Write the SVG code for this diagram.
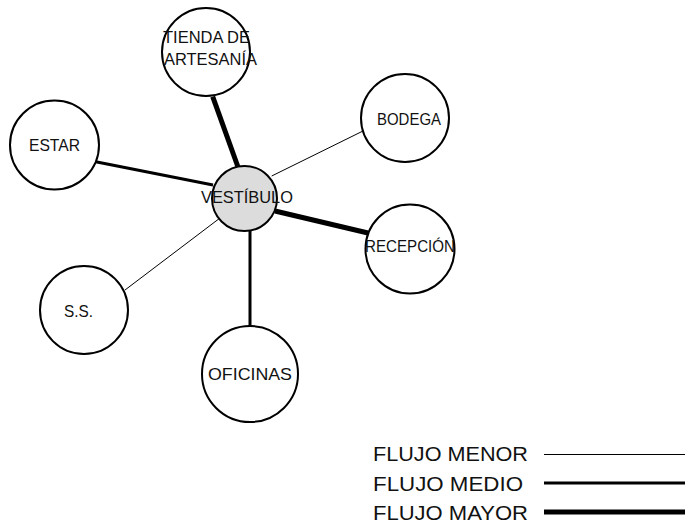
<svg xmlns="http://www.w3.org/2000/svg" width="685" height="527" viewBox="0 0 685 527">
<style>
.node{fill:#fff;stroke:#000;stroke-width:2}
.hub{fill:#dcdcdc;stroke:#000;stroke-width:2}
.lbl{font-family:"Liberation Sans",Arial,sans-serif;font-size:16.5px;fill:#111}
.leg{font-family:"Liberation Sans",Arial,sans-serif;font-size:20.5px;fill:#111}
.menor{stroke:#000;stroke-width:1}
.medio{stroke:#000;stroke-width:3}
.mayor{stroke:#000;stroke-width:5}
</style>
<rect width="685" height="527" fill="#fff"/>
<g id="connectors">
<line class="mayor" x1="212.7" y1="96.7" x2="238" y2="167"/>
<line class="menor" x1="365" y1="130" x2="271.7" y2="176"/>
<line class="mayor" x1="275" y1="211" x2="368" y2="233"/>
<line class="medio" x1="95.7" y1="161.7" x2="213" y2="185"/>
<line class="menor" x1="125" y1="290" x2="220" y2="218"/>
<line class="medio" x1="250" y1="231" x2="250" y2="326"/>
</g>
<g id="tienda"><circle class="node" cx="206" cy="52" r="44"/>
<text class="lbl" x="163" y="43" textLength="87" lengthAdjust="spacingAndGlyphs">TIENDA DE</text>
<text class="lbl" x="164" y="65" textLength="93" lengthAdjust="spacingAndGlyphs">ARTESANÍA</text></g>
<g id="bodega"><circle class="node" cx="405" cy="118" r="44"/>
<text class="lbl" x="377" y="125" textLength="64" lengthAdjust="spacingAndGlyphs">BODEGA</text></g>
<g id="estar"><circle class="node" cx="54.5" cy="145" r="44.5"/>
<text class="lbl" x="29" y="150.5" textLength="51" lengthAdjust="spacingAndGlyphs">ESTAR</text></g>
<g id="recepcion"><circle class="node" cx="410" cy="249" r="44.5"/>
<text class="lbl" x="365" y="252" textLength="90" lengthAdjust="spacingAndGlyphs">RECEPCIÓN</text></g>
<g id="ss"><circle class="node" cx="84" cy="310" r="44"/>
<text class="lbl" x="64" y="317" textLength="29" lengthAdjust="spacingAndGlyphs">S.S.</text></g>
<g id="oficinas"><circle class="node" cx="250" cy="374" r="48"/>
<text class="lbl" x="208" y="379.5" textLength="84" lengthAdjust="spacingAndGlyphs">OFICINAS</text></g>
<g id="vestibulo"><circle class="hub" cx="244.5" cy="198.5" r="32.5"/>
<text class="lbl" x="201" y="203" textLength="92" lengthAdjust="spacingAndGlyphs">VESTÍBULO</text></g>
<g id="legend">
<text class="leg" x="373" y="461" textLength="155" lengthAdjust="spacingAndGlyphs">FLUJO MENOR</text>
<text class="leg" x="373" y="490.5" textLength="150" lengthAdjust="spacingAndGlyphs">FLUJO MEDIO</text>
<text class="leg" x="373" y="520" textLength="155" lengthAdjust="spacingAndGlyphs">FLUJO MAYOR</text>
<line class="menor" x1="544" y1="454.5" x2="685" y2="454.5"/>
<line class="medio" x1="544" y1="483" x2="685" y2="483"/>
<line class="mayor" x1="544" y1="512" x2="685" y2="512"/>
</g>
</svg>
